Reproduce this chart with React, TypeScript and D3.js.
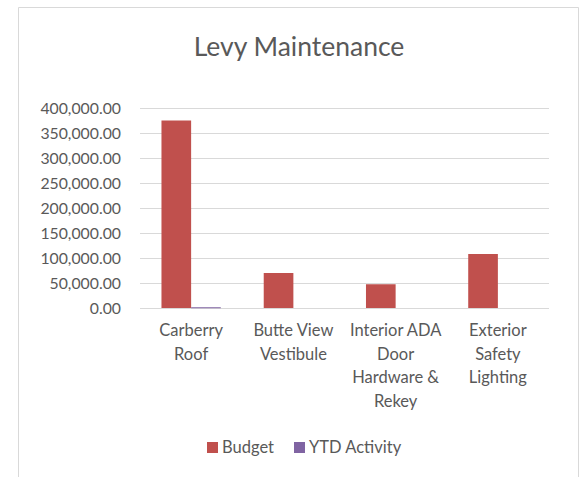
import * as d3 from 'd3'
import * as React from 'react'

// chart data
const categories = ['Carberry Roof', 'Butte View Vestibule', 'Interior ADA Door Hardware & Rekey', 'Exterior Safety Lighting']
const categoryLines = [
  ['Carberry', 'Roof'],
  ['Butte View', 'Vestibule'],
  ['Interior ADA', 'Door', 'Hardware &', 'Rekey'],
  ['Exterior', 'Safety', 'Lighting'],
]
const budget = [375000, 70000, 47500, 108000]
const ytdActivity = [1500, 0, 0, 0]
const seriesNames = ['Budget', 'YTD Activity']
const yTicks = [0, 50000, 100000, 150000, 200000, 250000, 300000, 350000, 400000]

const W = 587
const H = 477
const FONT = 'Lato, "Open Sans", sans-serif'
const TEXT = '#595959'
const colors = ['#C0504D', '#8064A2']

export default function App() {
  const left = 140
  const right = 549
  const top = 108
  const bottom = 308

  const x = d3.scaleBand<string>().domain(categories).range([left, right]).paddingInner(0.42).paddingOuter(0.21)
  const inner = d3.scaleBand<string>().domain(seriesNames).range([0, x.bandwidth()])
  const y = d3.scaleLinear().domain([0, 400000]).range([bottom, top])
  const fmt = d3.format(',.2f')
  const series = [budget, ytdActivity]

  React.useEffect(() => {
    document.body.style.margin = '0'
  }, [])

  // legend positions
  const legendX = [207, 294]

  return (
    <svg width={W} height={H} style={{ display: 'block', fontFamily: FONT }}>
      <rect x={0} y={0} width={W} height={H} fill="#fff" />
      <path d={`M18.5,${H} V7.5 H578.5 V${H}`} fill="none" stroke="#D9D9D9" strokeWidth={1} />
      <text x={299} y={56} textAnchor="middle" fontSize={26.5} fill={TEXT}>Levy Maintenance</text>

      {yTicks.map(t => (
        <g key={t}>
          <line x1={left} x2={right} y1={Math.round(y(t)) + 0.5} y2={Math.round(y(t)) + 0.5} stroke="#D9D9D9" strokeWidth={1} />
          <text x={121} y={y(t) + 5.5} textAnchor="end" fontSize={15.8} fill={TEXT}>{fmt(t)}</text>
        </g>
      ))}

      {series.map((vals, si) => (
        <g key={si}>
          {vals.map((v, i) => {
            const bx = x(categories[i])! + inner(seriesNames[si])!
            const h = bottom - y(v)
            if (h <= 0) return null
            return <rect key={i} x={bx} y={y(v)} width={inner.bandwidth()} height={Math.max(h, 1)} fill={colors[si]} />
          })}
        </g>
      ))}

      {categoryLines.map((lines, i) => (
        <text key={i} textAnchor="middle" fontSize={16.5} fill={TEXT}>
          {lines.map((ln, j) => (
            <tspan key={j} x={x(categories[i])! + x.bandwidth() / 2} y={336 + j * 23.5}>{ln}</tspan>
          ))}
        </text>
      ))}

      {seriesNames.map((name, i) => (
        <g key={name}>
          <rect x={legendX[i]} y={442} width={11} height={11} fill={colors[i]} />
          <text x={legendX[i] + 15} y={453} fontSize={16.5} fill={TEXT}>{name}</text>
        </g>
      ))}
    </svg>
  )
}
